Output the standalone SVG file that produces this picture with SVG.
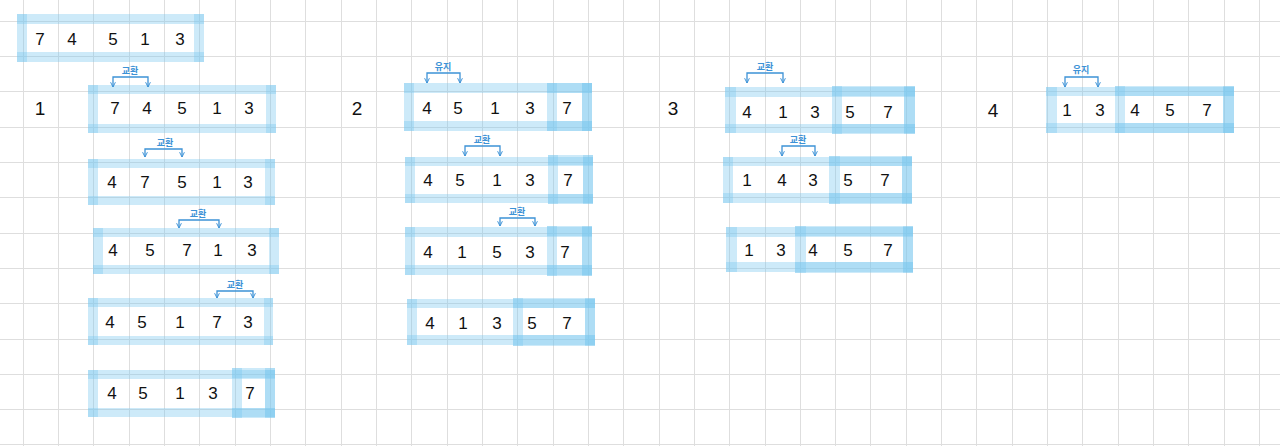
<svg xmlns="http://www.w3.org/2000/svg" width="1280" height="446" viewBox="0 0 1280 446">
<style>
.grid{stroke:#dedede;stroke-width:1;fill:none}
.band{fill:#7cc8ef;fill-opacity:0.38}
.dig{font-family:"Liberation Sans",Arial,sans-serif;font-size:17px;fill:#111;text-anchor:middle;dominant-baseline:central}
.num{font-family:"Liberation Sans",Arial,sans-serif;font-size:19px;fill:#111;text-anchor:middle;dominant-baseline:central}
.lbl{font-family:"Noto Sans CJK KR",sans-serif;font-size:9px;font-weight:bold;fill:#3d92d6;text-anchor:middle;dominant-baseline:central}
.br{fill:none;stroke:#3d92d6;stroke-width:1.3;marker-end:url(#ah)}
</style>
<defs>
<marker id="ah" viewBox="0 0 10 10" refX="9" refY="5" markerWidth="6" markerHeight="6" orient="auto" markerUnits="userSpaceOnUse">
<path d="M1,1 L9,5 L1,9" fill="none" stroke="#3d92d6" stroke-width="1.6"/>
</marker>
</defs>
<rect width="1280" height="446" fill="#ffffff"/>
<path class="grid" d="M23.5,0V446M58.5,0V446M93.5,0V446M129.5,0V446M164.5,0V446M199.5,0V446M235.5,0V446M270.5,0V446M305.5,0V446M341.5,0V446M376.5,0V446M411.5,0V446M447.5,0V446M482.5,0V446M517.5,0V446M553.5,0V446M588.5,0V446M623.5,0V446M659.5,0V446M694.5,0V446M729.5,0V446M765.5,0V446M800.5,0V446M835.5,0V446M870.5,0V446M906.5,0V446M941.5,0V446M976.5,0V446M1012.5,0V446M1047.5,0V446M1082.5,0V446M1118.5,0V446M1153.5,0V446M1188.5,0V446M1224.5,0V446M1259.5,0V446M0,21.5H1280M0,56.5H1280M0,91.5H1280M0,127.5H1280M0,162.5H1280M0,197.5H1280M0,233.5H1280M0,268.5H1280M0,303.5H1280M0,339.5H1280M0,374.5H1280M0,409.5H1280M0,444.5H1280"/>

<g id="labels">
<text class="num" x="40" y="108">1</text>
<text class="num" x="357" y="108">2</text>
<text class="num" x="673" y="108">3</text>
<text class="num" x="993" y="110">4</text>
</g>

<g id="start">
<rect class="band" x="17" y="14" width="187" height="10"/><rect class="band" x="17" y="52" width="187" height="10"/><rect class="band" x="17" y="14" width="10" height="48"/><rect class="band" x="194" y="14" width="10" height="48"/>
<text class="dig" x="40" y="39">7</text><text class="dig" x="72" y="39">4</text><text class="dig" x="113" y="39">5</text><text class="dig" x="145" y="39">1</text><text class="dig" x="180" y="39">3</text>
</g>

<g id="p1r1">
<rect class="band" x="88" y="85" width="188" height="9"/><rect class="band" x="88" y="124" width="188" height="9"/><rect class="band" x="88" y="85" width="10" height="48"/><rect class="band" x="266" y="85" width="10" height="48"/>
<text class="dig" x="115" y="108">7</text><text class="dig" x="147" y="108">4</text><text class="dig" x="182" y="108">5</text><text class="dig" x="217" y="108">1</text><text class="dig" x="249" y="108">3</text>
</g>
<g id="p1r2">
<rect class="band" x="88" y="159" width="187" height="9"/><rect class="band" x="88" y="196" width="187" height="9"/><rect class="band" x="88" y="159" width="10" height="46"/><rect class="band" x="265" y="159" width="10" height="46"/>
<text class="dig" x="112" y="182">4</text><text class="dig" x="145" y="182">7</text><text class="dig" x="182" y="182">5</text><text class="dig" x="217" y="182">1</text><text class="dig" x="248" y="182">3</text>
</g>
<g id="p1r3">
<rect class="band" x="93" y="228" width="186" height="9"/><rect class="band" x="93" y="265" width="186" height="9"/><rect class="band" x="93" y="228" width="10" height="46"/><rect class="band" x="269" y="228" width="10" height="46"/>
<text class="dig" x="113" y="250">4</text><text class="dig" x="150" y="250">5</text><text class="dig" x="187" y="250">7</text><text class="dig" x="218" y="250">1</text><text class="dig" x="252" y="250">3</text>
</g>
<g id="p1r4">
<rect class="band" x="88" y="298" width="185" height="9"/><rect class="band" x="88" y="336" width="185" height="9"/><rect class="band" x="88" y="298" width="10" height="47"/><rect class="band" x="264" y="298" width="9" height="47"/>
<text class="dig" x="110" y="322">4</text><text class="dig" x="142" y="322">5</text><text class="dig" x="180" y="322">1</text><text class="dig" x="217" y="322">7</text><text class="dig" x="248" y="322">3</text>
</g>
<g id="p1r5">
<rect class="band" x="88" y="370" width="187" height="9"/><rect class="band" x="88" y="408" width="187" height="9"/><rect class="band" x="88" y="370" width="10" height="47"/><rect class="band" x="265" y="370" width="10" height="47"/>
<rect class="band" x="232" y="368" width="43" height="10"/><rect class="band" x="232" y="408" width="43" height="10"/><rect class="band" x="232" y="368" width="10" height="50"/><rect class="band" x="265" y="368" width="10" height="50"/>
<text class="dig" x="112" y="393">4</text><text class="dig" x="143" y="393">5</text><text class="dig" x="180" y="393">1</text><text class="dig" x="213" y="393">3</text><text class="dig" x="250" y="393">7</text>
</g>

<g id="p2r1">
<rect class="band" x="404" y="83" width="188" height="10"/><rect class="band" x="404" y="121" width="188" height="10"/><rect class="band" x="404" y="83" width="10" height="48"/><rect class="band" x="582" y="83" width="10" height="48"/>
<rect class="band" x="547" y="83" width="45" height="10"/><rect class="band" x="547" y="121" width="45" height="10"/><rect class="band" x="547" y="83" width="10" height="48"/><rect class="band" x="582" y="83" width="10" height="48"/>
<text class="dig" x="427" y="108">4</text><text class="dig" x="458" y="108">5</text><text class="dig" x="495" y="108">1</text><text class="dig" x="530" y="108">3</text><text class="dig" x="567" y="108">7</text>
</g>
<g id="p2r2">
<rect class="band" x="405" y="157" width="188" height="9"/><rect class="band" x="405" y="194" width="188" height="9"/><rect class="band" x="405" y="157" width="10" height="46"/><rect class="band" x="583" y="157" width="10" height="46"/>
<rect class="band" x="548" y="155" width="45" height="10"/><rect class="band" x="548" y="194" width="45" height="10"/><rect class="band" x="548" y="155" width="10" height="49"/><rect class="band" x="583" y="155" width="10" height="49"/>
<text class="dig" x="428" y="180">4</text><text class="dig" x="460" y="180">5</text><text class="dig" x="497" y="180">1</text><text class="dig" x="530" y="180">3</text><text class="dig" x="568" y="180">7</text>
</g>
<g id="p2r3">
<rect class="band" x="405" y="227" width="187" height="10"/><rect class="band" x="405" y="265" width="187" height="10"/><rect class="band" x="405" y="227" width="10" height="48"/><rect class="band" x="582" y="227" width="10" height="48"/>
<rect class="band" x="547" y="226" width="45" height="10"/><rect class="band" x="547" y="265" width="45" height="11"/><rect class="band" x="547" y="226" width="10" height="50"/><rect class="band" x="582" y="226" width="10" height="50"/>
<text class="dig" x="428" y="252">4</text><text class="dig" x="462" y="252">1</text><text class="dig" x="497" y="252">5</text><text class="dig" x="530" y="252">3</text><text class="dig" x="565" y="252">7</text>
</g>
<g id="p2r4">
<rect class="band" x="407" y="299" width="188" height="9"/><rect class="band" x="407" y="335" width="188" height="10"/><rect class="band" x="407" y="299" width="10" height="46"/><rect class="band" x="585" y="299" width="10" height="46"/>
<rect class="band" x="513" y="298" width="82" height="10"/><rect class="band" x="513" y="335" width="82" height="11"/><rect class="band" x="513" y="298" width="10" height="48"/><rect class="band" x="585" y="298" width="10" height="48"/>
<text class="dig" x="430" y="323">4</text><text class="dig" x="463" y="323">1</text><text class="dig" x="497" y="323">3</text><text class="dig" x="532" y="323">5</text><text class="dig" x="567" y="323">7</text>
</g>

<g id="p3r1">
<rect class="band" x="725" y="87" width="190" height="10"/><rect class="band" x="725" y="124" width="190" height="9"/><rect class="band" x="725" y="87" width="11" height="46"/><rect class="band" x="904" y="87" width="11" height="46"/>
<rect class="band" x="832" y="86" width="83" height="10"/><rect class="band" x="832" y="124" width="83" height="10"/><rect class="band" x="832" y="86" width="10" height="48"/><rect class="band" x="904" y="86" width="11" height="48"/>
<text class="dig" x="747" y="112">4</text><text class="dig" x="783" y="112">1</text><text class="dig" x="815" y="112">3</text><text class="dig" x="850" y="112">5</text><text class="dig" x="888" y="112">7</text>
</g>
<g id="p3r2">
<rect class="band" x="723" y="157" width="189" height="9"/><rect class="band" x="723" y="193" width="189" height="10"/><rect class="band" x="723" y="157" width="10" height="46"/><rect class="band" x="902" y="157" width="10" height="46"/>
<rect class="band" x="829" y="156" width="83" height="10"/><rect class="band" x="829" y="193" width="83" height="11"/><rect class="band" x="829" y="156" width="11" height="48"/><rect class="band" x="902" y="156" width="10" height="48"/>
<text class="dig" x="747" y="180">1</text><text class="dig" x="782" y="180">4</text><text class="dig" x="813" y="180">3</text><text class="dig" x="848" y="180">5</text><text class="dig" x="885" y="180">7</text>
</g>
<g id="p3r3">
<rect class="band" x="726" y="227" width="187" height="10"/><rect class="band" x="726" y="262" width="187" height="10"/><rect class="band" x="726" y="227" width="11" height="45"/><rect class="band" x="903" y="227" width="10" height="45"/>
<rect class="band" x="795" y="226" width="118" height="10"/><rect class="band" x="795" y="262" width="118" height="11"/><rect class="band" x="795" y="226" width="11" height="47"/><rect class="band" x="903" y="226" width="10" height="47"/>
<text class="dig" x="749" y="250">1</text><text class="dig" x="781" y="250">3</text><text class="dig" x="813" y="250">4</text><text class="dig" x="848" y="250">5</text><text class="dig" x="888" y="250">7</text>
</g>

<g id="p4r1">
<rect class="band" x="1046" y="87" width="188" height="9"/><rect class="band" x="1046" y="123" width="188" height="10"/><rect class="band" x="1046" y="87" width="11" height="46"/><rect class="band" x="1223" y="87" width="11" height="46"/>
<rect class="band" x="1115" y="86" width="119" height="10"/><rect class="band" x="1115" y="123" width="119" height="10"/><rect class="band" x="1115" y="86" width="10" height="47"/><rect class="band" x="1223" y="86" width="11" height="47"/>
<text class="dig" x="1067" y="110">1</text><text class="dig" x="1100" y="110">3</text><text class="dig" x="1135" y="110">4</text><text class="dig" x="1170" y="110">5</text><text class="dig" x="1207" y="110">7</text>
</g>

<g id="connectors">
<path class="br" d="M130,77H113V87"/><path class="br" d="M130,77H148V87"/><text class="lbl" x="130" y="70">교환</text>
<path class="br" d="M164,149H145V157"/><path class="br" d="M164,149H182V157"/><text class="lbl" x="165" y="142">교환</text>
<path class="br" d="M199,220H179V228"/><path class="br" d="M199,220H219V228"/><text class="lbl" x="198" y="213">교환</text>
<path class="br" d="M235,291H217V298"/><path class="br" d="M235,291H253V298"/><text class="lbl" x="235" y="284">교환</text>
<path class="br" d="M443,73H427V83"/><path class="br" d="M443,73H460V83"/><text class="lbl" x="443" y="66">유지</text>
<path class="br" d="M482,146H465V156"/><path class="br" d="M482,146H500V156"/><text class="lbl" x="482" y="139">교환</text>
<path class="br" d="M517,218H500V226"/><path class="br" d="M517,218H535V226"/><text class="lbl" x="517" y="211">교환</text>
<path class="br" d="M765,73H747V83"/><path class="br" d="M765,73H783V83"/><text class="lbl" x="765" y="66">교환</text>
<path class="br" d="M798,146H782V156"/><path class="br" d="M798,146H815V156"/><text class="lbl" x="798" y="139">교환</text>
<path class="br" d="M1081,77H1065V87"/><path class="br" d="M1081,77H1098V87"/><text class="lbl" x="1081" y="69">유지</text>
</g>
</svg>
